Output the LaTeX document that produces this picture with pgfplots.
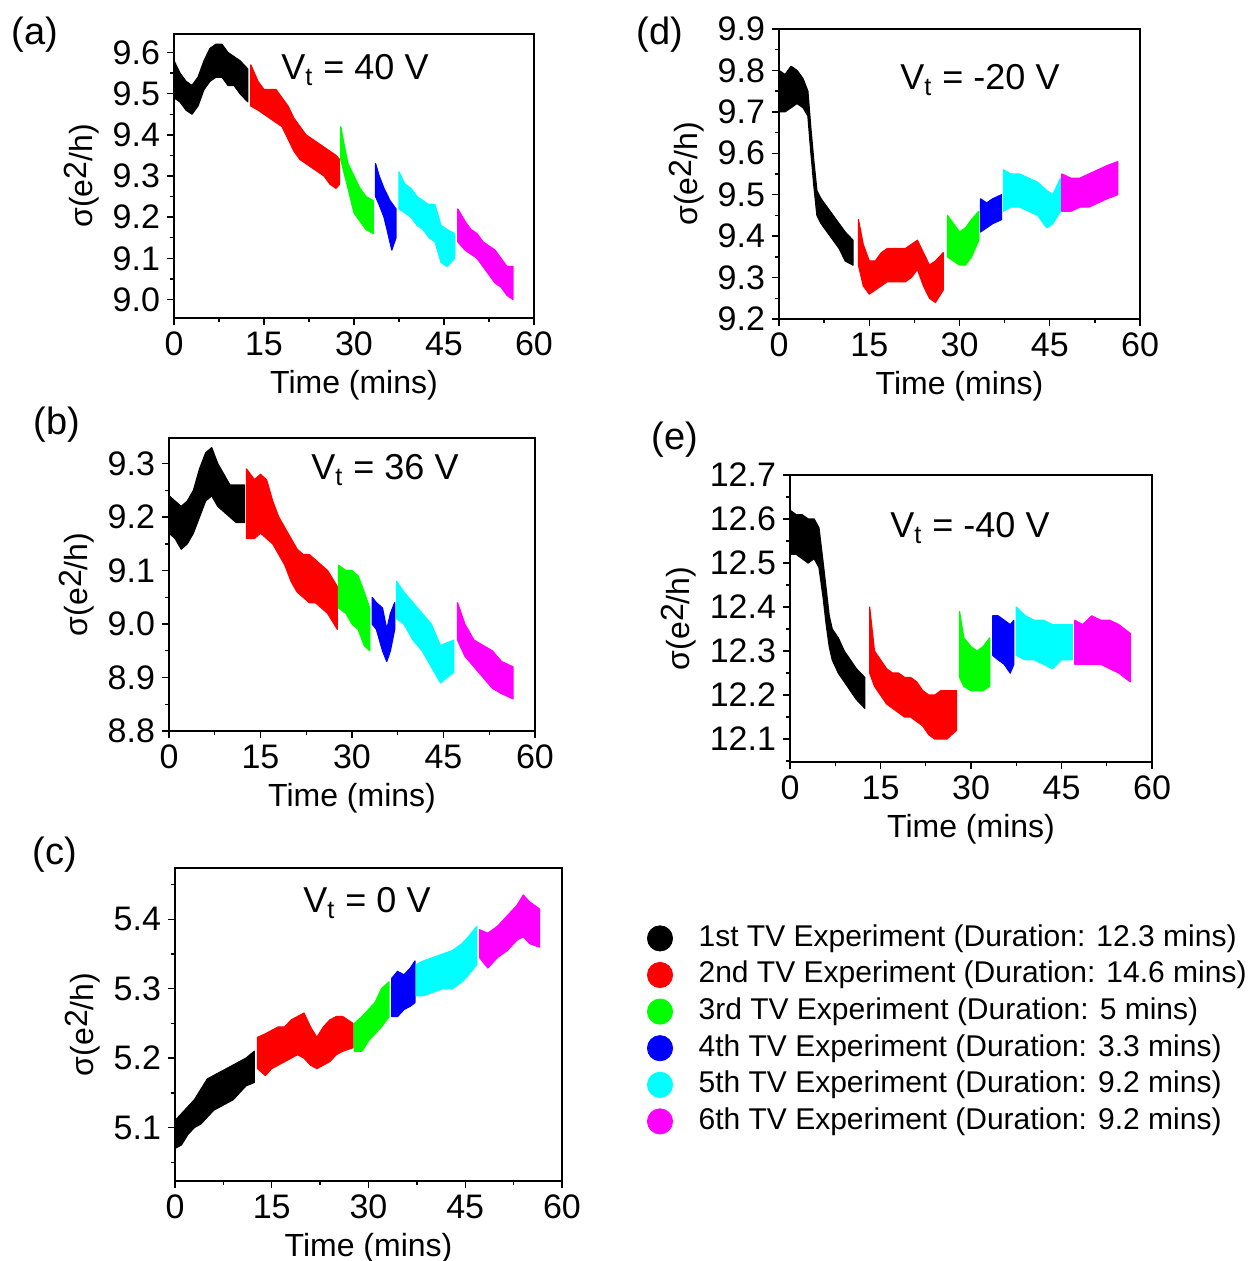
\documentclass[border=0pt]{standalone}
\usepackage{fontspec}
\setmainfont{Liberation Sans}
\usepackage{pgfplots}
\pgfplotsset{compat=1.18}
\definecolor{tvK}{RGB}{0,0,0}
\definecolor{tvR}{RGB}{255,0,0}
\definecolor{tvG}{RGB}{0,255,0}
\definecolor{tvB}{RGB}{0,0,255}
\definecolor{tvC}{RGB}{0,255,255}
\definecolor{tvM}{RGB}{255,0,255}
\pgfplotsset{
  tvpanel/.style={
    scale only axis, anchor=south west,
    xmin=0, xmax=60, xtick={0,15,30,45,60}, minor xtick={7.5,22.5,37.5,52.5},
    tick align=outside, xtick pos=bottom, ytick pos=left,
    axis line style={line width=0.7pt},
    every tick/.style={black, line width=0.7pt},
    major tick length=3.5pt, minor tick length=2pt,
    tick label style={font=\fontsize{17}{20}\selectfont},
    label style={font=\fontsize{16}{19}\selectfont},
    yticklabel style={/pgf/number format/.cd, fixed, fixed zerofill, precision=1},
    /pgf/number format/assume math mode=true,
    xlabel={Time (mins)},
    ylabel={σ(e\raisebox{0.35ex}{2}/h)},
  },
  band/.style={draw=#1, fill=#1, line width=0.6pt, line join=round},
}
\newcommand{\vt}[1]{V\textsubscript{t} = #1 V}
\begin{document}
\begin{tikzpicture}
\useasboundingbox (0,0) rectangle (625.5pt,630.5pt);
\tikzset{plab/.style={font=\fontsize{19}{22}\selectfont}, vlab/.style={font=\fontsize{18}{21}\selectfont}}

% (a) V_t = 40 V
\begin{axis}[tvpanel, at={(87pt,471.5pt)}, width=180pt, height=142pt,
  ymin=8.955, ymax=9.645, ytick={9.0,9.1,9.2,9.3,9.4,9.5,9.6},
  minor ytick={9.05,9.15,9.25,9.35,9.45,9.55}]
\addplot[band=tvK] coordinates {(0,9.58) (1,9.55) (2,9.53) (3,9.52) (4,9.54) (5,9.58) (6,9.61) (7,9.62) (8,9.62) (9,9.60) (10,9.59) (11,9.58) (12.3,9.56)
  (12.3,9.48) (11,9.50) (10,9.52) (9,9.52) (8,9.54) (7,9.54) (6,9.53) (5,9.51) (4,9.47) (3,9.45) (2,9.46) (1,9.48) (0,9.49)} -- cycle;
\addplot[band=tvR] coordinates {(12.8,9.57) (14,9.53) (15,9.51) (16,9.51) (17,9.51) (18,9.49) (19,9.47) (20,9.44) (21,9.42) (22,9.40) (23,9.39) (24,9.38) (25,9.37) (26,9.36) (27,9.35) (27.6,9.34)
  (27.6,9.28) (27,9.27) (26,9.28) (25,9.30) (24,9.31) (23,9.32) (22,9.33) (21,9.34) (20,9.36) (19,9.39) (18,9.42) (17,9.43) (16,9.44) (15,9.45) (14,9.46) (12.8,9.47)} -- cycle;
\addplot[band=tvG] coordinates {(27.8,9.42) (28.3,9.38) (29,9.33) (30,9.30) (31,9.27) (32,9.25) (33.2,9.24)
  (33.2,9.16) (32,9.17) (31,9.19) (30,9.21) (29,9.27) (28.3,9.31) (27.8,9.34)} -- cycle;
\addplot[band=tvB] coordinates {(33.6,9.33) (34.2,9.30) (35,9.27) (36,9.24) (37,9.22)
  (37,9.15) (36.3,9.12) (35.5,9.17) (35,9.20) (34.2,9.23) (33.6,9.25)} -- cycle;
\addplot[band=tvC] coordinates {(37.5,9.31) (38.5,9.28) (39.5,9.27) (40.5,9.25) (41.5,9.24) (42.5,9.23) (43.5,9.23) (44.5,9.18) (45.5,9.17) (46.8,9.16)
  (46.8,9.10) (45.5,9.08) (44.5,9.09) (43.5,9.14) (42.5,9.15) (41.5,9.17) (40.5,9.18) (39.5,9.20) (38.5,9.21) (37.5,9.22)} -- cycle;
\addplot[band=tvM] coordinates {(47.3,9.22) (48.5,9.19) (49.5,9.17) (50.5,9.16) (51.5,9.14) (52.5,9.13) (53.5,9.12) (54.5,9.10) (55.5,9.08) (56.5,9.08)
  (56.5,9.00) (55.5,9.01) (54.5,9.03) (53.5,9.04) (52.5,9.06) (51.5,9.08) (50.5,9.10) (49.5,9.11) (48.5,9.12) (47.3,9.14)} -- cycle;
\end{axis}

% (d) V_t = -20 V
\begin{axis}[tvpanel, at={(389.5pt,471pt)}, width=180.5pt, height=145pt,
  ymin=9.2, ymax=9.9, ytick={9.2,9.3,9.4,9.5,9.6,9.7,9.8,9.9},
  minor ytick={9.25,9.35,9.45,9.55,9.65,9.75,9.85}]
\addplot[band=tvK] coordinates {(0,9.80) (1,9.79) (2,9.81) (3,9.80) (4,9.78) (4.8,9.75) (5.3,9.66) (5.8,9.58) (6.3,9.51) (7,9.49) (8,9.47) (9,9.45) (10,9.43) (11,9.41) (12.3,9.39)
  (12.3,9.33) (11,9.34) (10,9.37) (9,9.39) (8,9.41) (7,9.43) (6.3,9.45) (5.8,9.52) (5.3,9.60) (4.8,9.69) (4,9.71) (3,9.72) (2,9.71) (1,9.70) (0,9.70)} -- cycle;
\addplot[band=tvR] coordinates {(13.2,9.44) (14,9.38) (15,9.34) (16,9.34) (17,9.36) (18,9.37) (19,9.37) (20,9.37) (21,9.37) (22,9.38) (23,9.39) (24,9.36) (25,9.33) (26,9.34) (27.3,9.36)
  (27.3,9.27) (26,9.24) (25,9.25) (24,9.28) (23,9.32) (22,9.30) (21,9.29) (20,9.29) (19,9.29) (18,9.29) (17,9.28) (16,9.27) (15,9.26) (14,9.28) (13.2,9.33)} -- cycle;
\addplot[band=tvG] coordinates {(28,9.45) (29,9.43) (30,9.41) (31,9.42) (32,9.44) (33.2,9.46)
  (33.2,9.39) (32,9.35) (31,9.33) (30,9.33) (29,9.34) (28,9.35)} -- cycle;
\addplot[band=tvB] coordinates {(33.5,9.49) (34.5,9.48) (35.5,9.49) (37,9.50)
  (37,9.44) (35.5,9.43) (34.5,9.42) (33.5,9.41)} -- cycle;
\addplot[band=tvC] coordinates {(37.3,9.56) (38.5,9.55) (40,9.55) (41.5,9.54) (43,9.53) (44.5,9.51) (45.5,9.50) (46.8,9.54)
  (46.8,9.46) (45.5,9.43) (44.5,9.42) (43,9.45) (41.5,9.46) (40,9.47) (38.5,9.47) (37.3,9.46)} -- cycle;
\addplot[band=tvM] coordinates {(47,9.55) (48.5,9.54) (50,9.54) (51.5,9.55) (53,9.56) (54.5,9.57) (56.3,9.58)
  (56.3,9.50) (54.5,9.49) (53,9.48) (51.5,9.47) (50,9.47) (48.5,9.46) (47,9.46)} -- cycle;
\end{axis}

% (b) V_t = 36 V
\begin{axis}[tvpanel, at={(84.5pt,265pt)}, width=183pt, height=146.5pt,
  ymin=8.8, ymax=9.348, ytick={8.8,8.9,9.0,9.1,9.2,9.3},
  minor ytick={8.85,8.95,9.05,9.15,9.25}]
\addplot[band=tvK] coordinates {(0,9.24) (1,9.23) (2,9.22) (3,9.23) (4,9.25) (5,9.29) (6,9.32) (7,9.33) (8,9.30) (9,9.28) (10,9.26) (11,9.26) (12.4,9.26)
  (12.4,9.19) (11,9.19) (10,9.20) (9,9.21) (8,9.22) (7,9.24) (6,9.23) (5,9.20) (4,9.17) (3,9.15) (2,9.14) (1,9.16) (0,9.17)} -- cycle;
\addplot[band=tvR] coordinates {(12.7,9.29) (14,9.27) (15,9.28) (16,9.27) (17,9.23) (18,9.20) (19,9.18) (20,9.16) (21,9.14) (22,9.13) (23,9.13) (24,9.12) (25,9.11) (26,9.10) (27.6,9.07)
  (27.6,8.99) (26,9.02) (25,9.03) (24,9.04) (23,9.04) (22,9.05) (21,9.06) (20,9.08) (19,9.11) (18,9.13) (17,9.15) (16,9.16) (15,9.17) (14,9.16) (12.7,9.16)} -- cycle;
\addplot[band=tvG] coordinates {(27.8,9.11) (29,9.10) (30,9.10) (31,9.09) (32,9.06) (32.9,9.03)
  (32.9,8.95) (32,8.96) (31,8.99) (30,9.00) (29,9.02) (27.8,9.03)} -- cycle;
\addplot[band=tvB] coordinates {(33.3,9.05) (34,9.04) (35,9.03) (35.7,8.99) (36.3,9.02) (37,9.04)
  (37,8.99) (36.3,8.95) (35.7,8.93) (35,8.95) (34,8.99) (33.3,9.00)} -- cycle;
\addplot[band=tvC] coordinates {(37.3,9.08) (38.5,9.06) (40,9.04) (41.5,9.02) (43,9.00) (44.5,8.96) (46.7,8.97)
  (46.7,8.91) (44.5,8.89) (43,8.92) (41.5,8.95) (40,8.97) (38.5,9.00) (37.3,9.01)} -- cycle;
\addplot[band=tvM] coordinates {(47.3,9.04) (48.5,9.00) (50,8.97) (51.5,8.96) (53,8.95) (54.5,8.93) (56.4,8.92)
  (56.4,8.86) (54.5,8.87) (53,8.88) (51.5,8.90) (50,8.92) (48.5,8.94) (47.3,8.97)} -- cycle;
\end{axis}

% (e) V_t = -40 V
\begin{axis}[tvpanel, at={(395pt,249.5pt)}, width=181pt, height=143.5pt,
  ymin=12.048, ymax=12.7, ytick={12.1,12.2,12.3,12.4,12.5,12.6,12.7},
  minor ytick={12.05,12.15,12.25,12.35,12.45,12.55,12.65}]
\addplot[band=tvK] coordinates {(0,12.62) (1,12.61) (2,12.61) (3,12.60) (4,12.60) (4.8,12.58) (5.5,12.50) (6,12.44) (6.5,12.38) (7,12.35) (8,12.33) (9,12.30) (10,12.28) (11,12.26) (12.4,12.24)
  (12.4,12.17) (11,12.19) (10,12.21) (9,12.23) (8,12.25) (7,12.28) (6.5,12.31) (6,12.36) (5.5,12.42) (4.8,12.49) (4,12.51) (3,12.50) (2,12.51) (1,12.52) (0,12.52)} -- cycle;
\addplot[band=tvR] coordinates {(13.2,12.40) (14,12.30) (15,12.28) (16,12.26) (17,12.25) (18,12.25) (19,12.24) (20,12.24) (21,12.23) (22,12.21) (23,12.20) (24,12.20) (25,12.21) (26,12.21) (27.6,12.21)
  (27.6,12.12) (26,12.10) (25,12.10) (24,12.10) (23,12.11) (22,12.13) (21,12.14) (20,12.15) (19,12.15) (18,12.16) (17,12.17) (16,12.18) (15,12.20) (14,12.22) (13.2,12.25)} -- cycle;
\addplot[band=tvG] coordinates {(28.1,12.39) (28.8,12.33) (30,12.31) (31,12.30) (32,12.31) (33.1,12.33)
  (33.1,12.22) (32,12.21) (31,12.21) (30,12.21) (28.8,12.22) (28.1,12.24)} -- cycle;
\addplot[band=tvB] coordinates {(33.6,12.38) (34.5,12.38) (35.5,12.37) (36.5,12.36) (37.1,12.37)
  (37.1,12.27) (36.5,12.25) (35.5,12.27) (34.5,12.28) (33.6,12.29)} -- cycle;
\addplot[band=tvC] coordinates {(37.5,12.40) (39,12.38) (40.5,12.37) (42,12.37) (43.5,12.36) (45,12.36) (46.8,12.36)
  (46.8,12.28) (45,12.28) (43.5,12.26) (42,12.27) (40.5,12.28) (39,12.28) (37.5,12.29)} -- cycle;
\addplot[band=tvM] coordinates {(47.2,12.37) (48.5,12.36) (50,12.38) (51.5,12.37) (53,12.37) (54.5,12.36) (56.4,12.34)
  (56.4,12.23) (54.5,12.25) (53,12.26) (51.5,12.27) (50,12.27) (48.5,12.27) (47.2,12.27)} -- cycle;
\end{axis}

% (c) V_t = 0 V
\begin{axis}[tvpanel, at={(87.5pt,40pt)}, width=193.5pt, height=156.5pt,
  ymin=5.023, ymax=5.474, ytick={5.1,5.2,5.3,5.4},
  minor ytick={5.05,5.15,5.25,5.35,5.45}]
\addplot[band=tvK] coordinates {(0,5.11) (1,5.12) (2,5.13) (3,5.14) (4,5.155) (5,5.17) (6,5.175) (7,5.18) (8,5.185) (9,5.19) (10,5.195) (11,5.20) (12.3,5.21)
  (12.3,5.165) (11,5.16) (10,5.15) (9,5.14) (8,5.135) (7,5.13) (6,5.125) (5,5.115) (4,5.105) (3,5.10) (2,5.09) (1,5.075) (0,5.07)} -- cycle;
\addplot[band=tvR] coordinates {(12.8,5.23) (14,5.235) (15,5.24) (16,5.245) (17,5.245) (18,5.255) (19,5.26) (20,5.265) (21,5.245) (22,5.23) (23,5.245) (24,5.255) (25,5.26) (26,5.26) (27.6,5.25)
  (27.6,5.215) (26,5.21) (25,5.205) (24,5.195) (23,5.19) (22,5.185) (21,5.19) (20,5.20) (19,5.205) (18,5.20) (17,5.195) (16,5.19) (15,5.185) (14,5.175) (12.8,5.185)} -- cycle;
\addplot[band=tvG] coordinates {(27.8,5.25) (29,5.26) (30,5.27) (31,5.28) (32,5.30) (33.2,5.31)
  (33.2,5.26) (32,5.245) (31,5.235) (30,5.225) (29,5.21) (27.8,5.21)} -- cycle;
\addplot[band=tvB] coordinates {(33.6,5.315) (34.5,5.325) (35.5,5.32) (36.5,5.33) (37.2,5.34)
  (37.2,5.28) (36.5,5.275) (35.5,5.27) (34.5,5.26) (33.6,5.26)} -- cycle;
\addplot[band=tvC] coordinates {(37.4,5.335) (38.5,5.34) (40,5.345) (41.5,5.35) (43,5.355) (44.5,5.365) (45.5,5.375) (46.8,5.39)
  (46.8,5.335) (45.5,5.32) (44.5,5.31) (43,5.30) (41.5,5.30) (40,5.295) (38.5,5.29) (37.4,5.29)} -- cycle;
\addplot[band=tvM] coordinates {(47.2,5.385) (48.5,5.38) (50,5.39) (51.5,5.405) (53,5.42) (54,5.435) (55,5.425) (56.5,5.415)
  (56.5,5.36) (55,5.365) (54,5.375) (53,5.37) (51.5,5.355) (50,5.345) (48.5,5.33) (47.2,5.345)} -- cycle;
\end{axis}

% legend
\begin{axis}[hide axis, scale only axis, anchor=south west, at={(323.5pt,169.5pt)},
  width=1pt, height=1pt, xmin=0, xmax=1, ymin=0, ymax=1,
  legend style={at={(0,1)}, anchor=north west, draw=none, fill=none, inner sep=0pt,
    font=\fontsize{15}{18}\selectfont, row sep=0.3pt,
    nodes={text height=11pt, text depth=3pt},
    /tikz/every odd column/.append style={column sep=11pt}},
  legend cell align=left]
\addlegendimage{only marks, mark=*, mark size=6.3pt, tvK}
\addlegendentry{1st TV Experiment (Duration: 12.3 mins)}
\addlegendimage{only marks, mark=*, mark size=6.3pt, tvR}
\addlegendentry{2nd TV Experiment (Duration: 14.6 mins)}
\addlegendimage{only marks, mark=*, mark size=6.3pt, tvG}
\addlegendentry{3rd TV Experiment (Duration: 5 mins)}
\addlegendimage{only marks, mark=*, mark size=6.3pt, tvB}
\addlegendentry{4th TV Experiment (Duration: 3.3 mins)}
\addlegendimage{only marks, mark=*, mark size=6.3pt, tvC}
\addlegendentry{5th TV Experiment (Duration: 9.2 mins)}
\addlegendimage{only marks, mark=*, mark size=6.3pt, tvM}
\addlegendentry{6th TV Experiment (Duration: 9.2 mins)}
\end{axis}

% panel letters and gate voltages
\node[plab] at (17.5pt,613pt) {(a)};
\node[plab] at (330pt,613pt) {(d)};
\node[plab] at (28.5pt,418pt) {(b)};
\node[plab] at (337.5pt,410.5pt) {(e)};
\node[plab] at (27.5pt,203pt) {(c)};
\node[vlab] at (177.5pt,595.5pt) {\vt{40}};
\node[vlab] at (490pt,590.5pt) {\vt{-20}};
\node[vlab] at (192.5pt,395.5pt) {\vt{36}};
\node[vlab] at (485pt,366.5pt) {\vt{-40}};
\node[vlab] at (183.5pt,179pt) {\vt{0}};
\end{tikzpicture}
\end{document}
